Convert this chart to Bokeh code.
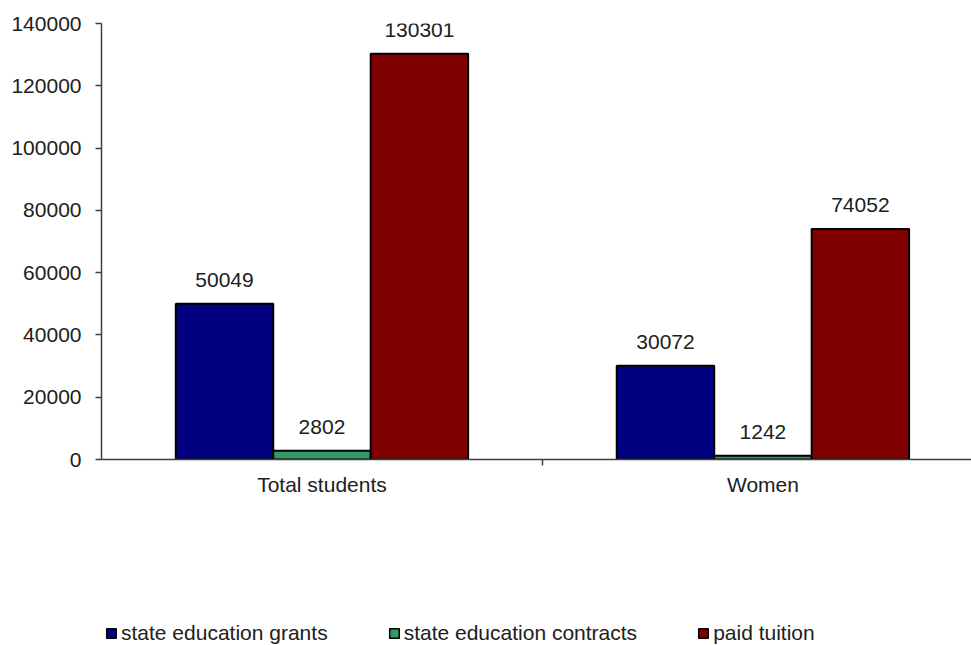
from bokeh.plotting import figure
from bokeh.layouts import column
from bokeh.models import (Range1d, FixedTicker, LinearAxis, Legend, LegendItem,
                          ColumnDataSource, NumeralTickFormatter)
from bokeh.core.properties import value
from bokeh.embed import file_html
from bokeh.resources import INLINE

categories = ["Total students", "Women"]
series = ["state education grants", "state education contracts", "paid tuition"]
grants = [50049, 30072]
contracts = [2802, 1242]
tuition = [130301, 74052]
colors = ["#000080", "#339966", "#800000"]
y_ticks = [0, 20000, 40000, 60000, 80000, 100000, 120000, 140000]

FONT = "Liberation Sans"
FS = "21px"
TXT = "#202020"

p = figure(width=971, height=518, output_backend="svg", toolbar_location=None,
           x_range=Range1d(0, 3.946), y_range=Range1d(0, 140000),
           min_border_left=101, min_border_right=0, min_border_top=23,
           min_border_bottom=59, x_axis_type=None, y_axis_type=None)
p.outline_line_color = None
p.xgrid.visible = False
p.ygrid.visible = False

bar_w = 0.442
offsets = [-bar_w, 0.0, bar_w]
centers = [2 * i + 1 for i in range(len(categories))]
sources = []
for vals, off, col in zip([grants, contracts, tuition], offsets, colors):
    xs = [c + off for c in centers]
    src = ColumnDataSource(dict(x=xs, top=vals, label=[str(v) for v in vals]))
    sources.append(src)
    p.vbar(x="x", top="top", bottom=0, width=bar_w, source=src,
           fill_color=col, line_color="black", line_width=2)
    p.text(x="x", y="top", text="label", source=src, text_align="center",
           text_baseline="bottom", y_offset=-17, text_font=value(FONT),
           text_font_size=FS, text_color=TXT)

yaxis = LinearAxis(ticker=FixedTicker(ticks=y_ticks, minor_ticks=[]),
                   formatter=NumeralTickFormatter(format="0"))
yaxis.axis_line_color = "#404040"
yaxis.axis_line_width = 1.5
yaxis.major_tick_line_color = "#404040"
yaxis.major_tick_line_width = 1.5
yaxis.major_tick_in = 0
yaxis.major_tick_out = 6
yaxis.major_label_standoff = 14
yaxis.major_label_text_font = FONT
yaxis.major_label_text_font_size = FS
yaxis.major_label_text_color = TXT
p.add_layout(yaxis, "left")

xaxis = LinearAxis(ticker=FixedTicker(ticks=centers, minor_ticks=[2]))
xaxis.major_label_overrides = {c: name for c, name in zip(centers, categories)}
xaxis.axis_line_color = "#404040"
xaxis.axis_line_width = 1.5
xaxis.major_tick_line_color = None
xaxis.major_tick_in = 0
xaxis.major_tick_out = 0
xaxis.minor_tick_line_color = "#404040"
xaxis.minor_tick_line_width = 1.5
xaxis.minor_tick_in = 0
xaxis.minor_tick_out = 6
xaxis.major_label_standoff = 7
xaxis.major_label_text_font = FONT
xaxis.major_label_text_font_size = FS
xaxis.major_label_text_color = TXT
p.add_layout(xaxis, "below")

# legend strip below the chart (its bars lie wholly outside this strip's view)
lg = figure(width=971, height=127, output_backend="svg", toolbar_location=None,
            x_range=Range1d(-200, -100), y_range=Range1d(300000, 400000),
            min_border_left=0, min_border_right=0, min_border_top=0,
            min_border_bottom=0, x_axis_type=None, y_axis_type=None)
lg.outline_line_color = None
lg.xgrid.visible = False
lg.ygrid.visible = False
items = []
for s, col, src in zip(series, colors, sources):
    r = lg.vbar(x="x", top="top", bottom=0, width=bar_w, source=src,
                fill_color=col, line_color="black", line_width=1.5)
    items.append(LegendItem(label=s, renderers=[r]))
legend = Legend(items=items, location=(4, 0), orientation="horizontal",
                glyph_width=12, glyph_height=12, label_standoff=4, spacing=60,
                padding=0, margin=0, border_line_color=None,
                background_fill_alpha=0, label_text_font=FONT,
                label_text_font_size=FS, label_text_color=TXT)
lg.add_layout(legend, "center")

layout = column(p, lg, spacing=0)
open("out.html", "w").write(file_html(layout, INLINE))
